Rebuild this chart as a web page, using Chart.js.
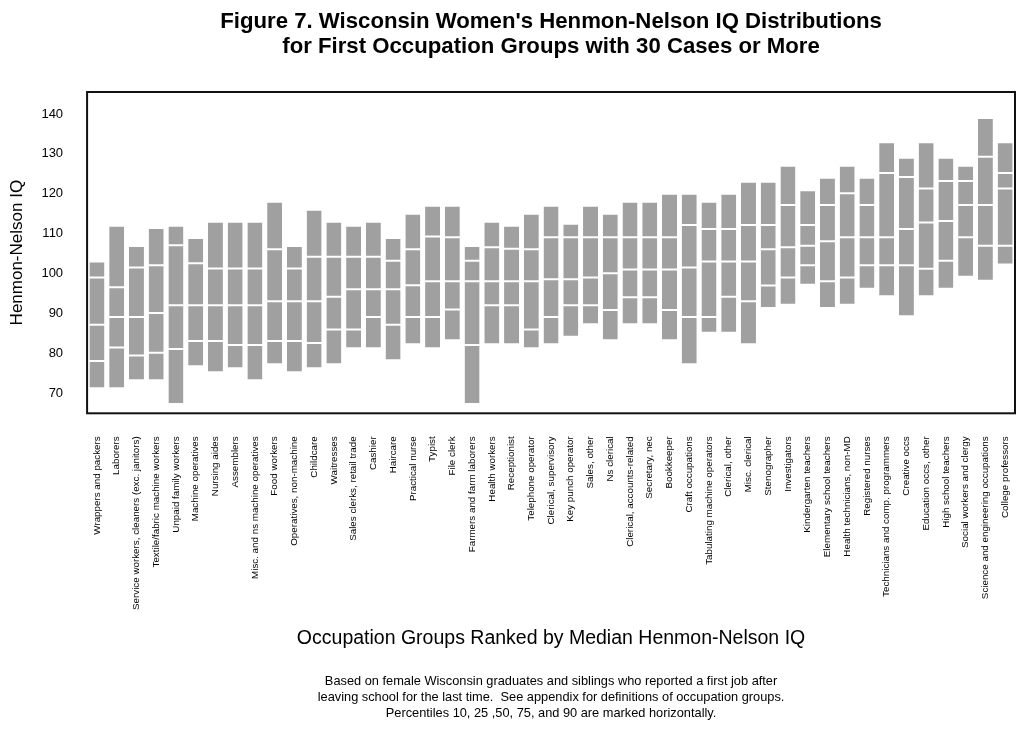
<!DOCTYPE html>
<html>
<head>
<meta charset="utf-8">
<script src="https://cdn.jsdelivr.net/npm/chart.js@4.4.1/dist/chart.umd.min.js"></script>
<style>
    html, body { margin: 0; padding: 0; background: #fff; }
    #wrap { width: 1024px; height: 731px; }
</style>
</head>
<body>
<div id="wrap"><canvas id="chart-iq"></canvas></div>
<script>
Chart.defaults.font.family = "'Liberation Sans', Arial, sans-serif";
Chart.defaults.color = '#000';

const OCCUPATIONS = [
    'Wrappers and packers', 'Laborers', 'Service workers, cleaners (exc. janitors)', 'Textile/fabric machine workers',
    'Unpaid family workers', 'Machine operatives', 'Nursing aides', 'Assemblers', 'Misc. and ns machine operatives',
    'Food workers', 'Operatives, non-machine', 'Childcare', 'Waitresses', 'Sales clerks, retail trade', 'Cashier',
    'Haircare', 'Practical nurse', 'Typist', 'File clerk', 'Farmers and farm laborers', 'Health workers',
    'Receptionist', 'Telephone operator', 'Clerical, supervisory', 'Key punch operator', 'Sales, other',
    'Ns clerical', 'Clerical, accounts-related', 'Secretary, nec', 'Bookkeeper', 'Craft occupations',
    'Tabulating machine operators', 'Clerical, other', 'Misc. clerical', 'Stenographer', 'Investigators',
    'Kindergarten teachers', 'Elementary school teachers', 'Health technicians, non-MD', 'Registered nurses',
    'Technicians and comp. programmers', 'Creative occs', 'Education occs, other', 'High school teachers',
    'Social workers and clergy', 'Science and engineering occupations', 'College professors'
];

// percentiles
const P10 = [71.3, 71.3, 73.3, 73.3, 67.3, 76.8, 75.3, 76.3, 73.3, 77.3, 75.3, 76.3, 77.3, 81.3, 81.3, 78.3,
    82.3, 81.3, 83.3, 67.3, 82.3, 82.3, 81.3, 82.3, 84.2, 87.3, 83.3, 87.3, 87.3, 83.3, 77.3, 85.2, 85.2, 82.3,
    91.4, 92.2, 97.2, 91.4, 92.2, 96.2, 94.3, 89.3, 94.3, 96.2, 99.2, 98.2, 102.3];
const P25 = [78.1, 81.5, 79.5, 80.2, 81.1, 83.1, 83.1, 82.1, 82.1, 83.1, 83.1, 82.6, 86.0, 86.0, 89.1, 87.2,
    89.1, 89.1, 91.0, 82.1, 92.1, 92.1, 86.0, 89.1, 92.1, 92.1, 90.9, 94.1, 94.1, 90.9, 89.1, 89.1, 94.2, 93.1,
    97.0, 99.0, 102.1, 98.1, 99.0, 102.1, 102.1, 102.1, 101.2, 103.2, 109.1, 107.0, 107.0];
const P50 = [87.2, 89.1, 89.1, 90.1, 92.1, 92.1, 92.1, 92.1, 92.1, 93.1, 93.1, 93.1, 94.2, 96.1, 96.1, 96.1,
    97.1, 98.1, 98.1, 98.1, 98.1, 98.1, 98.1, 98.6, 98.6, 99.0, 100.1, 101.0, 101.0, 101.0, 101.5, 103.0, 103.0, 103.0,
    106.1, 106.6, 107.0, 108.1, 109.1, 109.1, 109.1, 111.2, 112.8, 113.2, 117.2, 117.2, 121.3];
const P75 = [99.0, 96.6, 101.5, 102.1, 107.1, 102.6, 101.3, 101.3, 101.3, 106.1, 101.3, 104.2, 104.2, 104.2, 104.2, 103.2,
    106.1, 109.3, 109.1, 103.2, 106.6, 106.2, 106.1, 109.1, 109.1, 109.1, 109.1, 109.1, 109.1, 109.1, 112.2, 111.2, 111.2, 112.2,
    112.2, 117.2, 112.2, 117.2, 120.1, 117.2, 125.2, 124.2, 121.3, 123.2, 123.2, 129.3, 125.2];
const P90 = [103.0, 112.0, 106.9, 111.4, 112.0, 108.9, 113.0, 113.0, 113.0, 118.0, 106.9, 116.0, 113.0, 112.0, 113.0, 108.9,
    115.0, 117.0, 117.0, 106.9, 113.0, 112.0, 115.0, 117.0, 112.5, 117.0, 115.0, 118.0, 118.0, 120.0, 120.0, 118.0, 120.0, 123.0,
    123.0, 127.0, 120.9, 124.0, 127.0, 124.0, 132.9, 129.0, 132.9, 129.0, 127.0, 139.0, 132.9];

const Y_TICKS = [70, 80, 90, 100, 110, 120, 130, 140];

const TITLE = ["Figure 7. Wisconsin Women's Henmon-Nelson IQ Distributions", 'for First Occupation Groups with 30 Cases or More'];
const NOTE = [
    'Based on female Wisconsin graduates and siblings who reported a first job after',
    'leaving school for the last time.  See appendix for definitions of occupation groups.',
    'Percentiles 10, 25 ,50, 75, and 90 are marked horizontally.'
];

const GREY = '#a0a0a0';

function segment(label, lo, hi) {
    return {
        label: label,
        data: lo.map((v, i) => [v, hi[i]]),
        backgroundColor: GREY,
        borderColor: '#fff',
        borderWidth: { top: 1, bottom: 1, left: 0, right: 0 },
        borderSkipped: false,
        grouped: false,
        barPercentage: 0.76,
        categoryPercentage: 1
    };
}

// black box round the plot area
const frame = {
    id: 'frame',
    afterDatasetsDraw(chart) {
        const a = chart.chartArea, c = chart.ctx;
        c.save();
        c.strokeStyle = '#111';
        c.lineWidth = 2;
        c.strokeRect(a.left, a.top, a.right - a.left, a.bottom - a.top);
        c.restore();
    }
};

// hidden tick marks give the gap between labels and the box
const noGrid = len => ({ display: false, drawTicks: true, tickLength: len, tickColor: 'rgba(0,0,0,0)' });

new Chart(document.getElementById('chart-iq'), {
    type: 'bar',
    data: {
        labels: OCCUPATIONS,
        datasets: [
            segment('10-25', P10, P25),
            segment('25-50', P25, P50),
            segment('50-75', P50, P75),
            segment('75-90', P75, P90)
        ]
    },
    options: {
        responsive: true, maintainAspectRatio: false, animation: false,
        layout: { padding: { left: 4, right: 9, top: 0, bottom: 0 } },
        plugins: {
            legend: { display: false },
            tooltip: { enabled: false },
            title: { display: true, text: TITLE, fullSize: false, font: { size: 22.2, weight: 'bold', lineHeight: 1.126 }, padding: { top: 9, bottom: 33 } },
            subtitle: { display: true, position: 'bottom', text: NOTE, fullSize: false, font: { size: 12.8, lineHeight: 1.23 }, padding: { top: 23.4, bottom: 10 } }
        },
        scales: {
            x: {
                grid: noGrid(23), border: { display: false },
                ticks: { autoSkip: false, minRotation: 90, maxRotation: 90, font: { size: 9.8 }, padding: 0 },
                title: { display: true, text: 'Occupation Groups Ranked by Median Henmon-Nelson IQ', font: { size: 19.5, lineHeight: 1.2 }, padding: { top: 17, bottom: 0 } }
            },
            y: {
                min: 65, max: 145.5,
                afterBuildTicks: s => { s.ticks = Y_TICKS.map(v => ({ value: v })); },
                grid: noGrid(24), border: { display: false },
                ticks: { font: { size: 13 }, padding: 0 },
                title: { display: true, text: 'Henmon-Nelson IQ', font: { size: 17, lineHeight: 1.2 }, padding: { top: 3, bottom: 14 } }
            }
        }
    },
    plugins: [frame]
});
</script>
</body>
</html>
